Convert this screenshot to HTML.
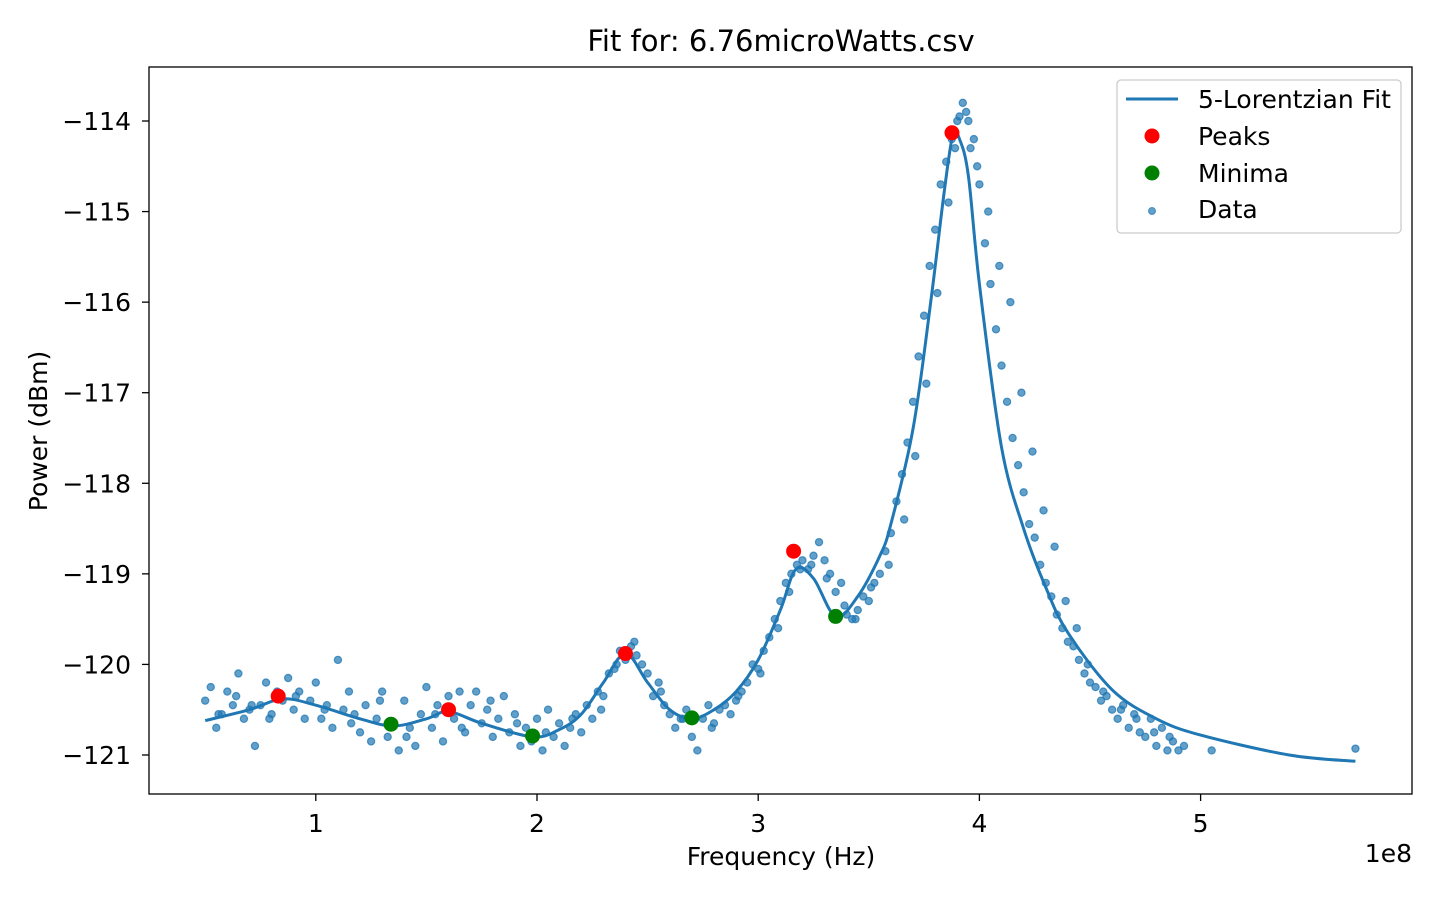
<!DOCTYPE html>
<html><head><meta charset="utf-8"><style>
html,body{margin:0;padding:0;background:#fff;}
svg{display:block;font-family:"DejaVu Sans","Liberation Sans",sans-serif;}
</style></head><body>
<svg id="chart" width="1440" height="900" xmlns="http://www.w3.org/2000/svg">
<rect x="0" y="0" width="1440" height="900" fill="#fff"/>
<text x="781" y="51" font-size="29" text-anchor="middle">Fit for: 6.76microWatts.csv</text>
<g id="marks"></g>
<rect x="149" y="67" width="1263" height="727" fill="none" stroke="#000" stroke-width="1.3"/>
<g id="axes"></g>
<text x="781" y="865" font-size="25" text-anchor="middle">Frequency (Hz)</text>
<text x="1412" y="862" font-size="25" text-anchor="end">1e8</text>
<text transform="translate(47,431) rotate(-90)" font-size="25" text-anchor="middle">Power (dBm)</text>
<g>
<rect x="1117" y="80" width="284" height="153" rx="4" fill="#fff" fill-opacity="0.8" stroke="#ccc" stroke-width="1.3"/>
<line x1="1126" y1="99" x2="1178" y2="99" stroke="#1f77b4" stroke-width="3"/>
<text x="1198" y="108" font-size="25">5-Lorentzian Fit</text>
<circle cx="1152" cy="136" r="7.5" fill="#ff0000"/>
<text x="1198" y="145" font-size="25">Peaks</text>
<circle cx="1152" cy="173" r="7.5" fill="#008000"/>
<text x="1198" y="182" font-size="25">Minima</text>
<circle cx="1152" cy="211" r="3.5" fill="#1f77b4" fill-opacity="0.7" stroke="#1f77b4" stroke-opacity="0.7"/>
<text x="1198" y="218" font-size="25">Data</text>
</g>
</svg>
<script>
const xTicks = [1, 2, 3, 4, 5];
const yTicks = [-114, -115, -116, -117, -118, -119, -120, -121];
const fitFreq = [0.5,0.7,0.85,1.0,1.2,1.35,1.5,1.6,1.75,1.98,2.1,2.2,2.3,2.4,2.5,2.6,2.7,2.8,2.9,3.0,3.1,3.17,3.25,3.35,3.45,3.55,3.6,3.7,3.78,3.84,3.88,3.91,3.95,4.0,4.1,4.2,4.3,4.4,4.6,4.8,5.0,5.4,5.7];
const fitPower = [-120.62,-120.5,-120.38,-120.45,-120.6,-120.68,-120.6,-120.52,-120.65,-120.8,-120.72,-120.55,-120.2,-119.88,-120.2,-120.5,-120.6,-120.5,-120.3,-119.95,-119.4,-118.95,-119.05,-119.47,-119.25,-118.8,-118.45,-117.4,-116.0,-114.8,-114.15,-114.2,-114.6,-115.8,-117.6,-118.5,-119.15,-119.65,-120.28,-120.6,-120.78,-121.0,-121.07];
const peakFreq = [0.83,1.6,2.4,3.16,3.876];
const peakPower = [-120.35,-120.5,-119.88,-118.75,-114.13];
const minFreq = [1.34,1.98,2.7,3.35];
const minPower = [-120.66,-120.79,-120.59,-119.47];
const dataFreq = [0.5,0.525,0.55,0.575,0.6,0.625,0.65,0.675,0.7,0.725,0.75,0.775,0.8,0.825,0.85,0.875,0.9,0.925,0.95,0.975,1.0,1.025,1.05,1.075,1.1,1.125,1.15,1.175,1.2,1.225,1.25,1.275,1.3,1.325,1.35,1.375,1.4,1.425,1.45,1.475,1.5,1.525,1.55,1.575,1.6,1.625,1.65,1.675,1.7,1.725,1.75,1.775,1.8,1.825,1.85,1.875,1.9,1.925,1.95,1.975,2.0,2.025,2.05,2.075,2.1,2.125,2.15,2.175,2.2,2.225,2.25,2.275,2.3,2.325,2.35,2.375,2.4,2.425,2.45,2.475,2.5,2.525,2.55,2.575,2.6,2.625,2.65,2.675,2.7,2.725,2.75,2.775,2.8,2.825,2.85,2.875,2.9,2.925,2.95,2.975,3.0,3.025,3.05,3.075,3.1,3.125,3.15,3.175,3.2,3.225,3.25,3.275,3.3,3.325,3.35,3.375,3.4,3.425,3.45,3.475,3.5,3.525,3.55,3.575,3.6,3.625,3.65,3.675,3.7,3.725,3.75,3.775,3.8,3.825,3.85,3.875,3.9,3.925,3.95,3.975,4.0,4.025,4.05,4.075,4.1,4.125,4.15,4.175,4.2,4.225,4.25,4.275,4.3,4.325,4.35,4.375,4.4,4.425,4.45,4.475,4.5,4.525,4.55,4.575,4.6,4.625,4.65,4.675,4.7,4.725,4.75,4.775,4.8,4.825,4.85,4.875,4.9,4.925,5.05,5.7,
  0.56,0.64,0.71,0.79,0.91,1.04,1.16,1.29,1.41,1.54,1.66,1.79,1.91,2.04,2.16,2.29,2.36,2.44,2.56,2.66,2.79,2.91,3.01,3.09,3.14,3.19,3.24,3.31,3.39,3.44,3.51,3.59,3.66,3.71,3.76,3.81,3.86,3.89,3.91,3.94,3.96,3.99,4.04,4.09,4.14,4.19,4.24,4.29,4.34,4.39,4.44,4.49,4.56,4.64,4.71,4.79,4.86];
const dataPower = [-120.4,-120.25,-120.7,-120.55,-120.3,-120.45,-120.1,-120.6,-120.5,-120.9,-120.45,-120.2,-120.55,-120.3,-120.4,-120.15,-120.5,-120.3,-120.6,-120.4,-120.2,-120.6,-120.45,-120.7,-119.95,-120.5,-120.3,-120.55,-120.75,-120.45,-120.85,-120.6,-120.3,-120.8,-120.65,-120.95,-120.4,-120.7,-120.9,-120.55,-120.25,-120.7,-120.45,-120.85,-120.35,-120.6,-120.3,-120.75,-120.45,-120.3,-120.65,-120.5,-120.8,-120.6,-120.35,-120.75,-120.55,-120.9,-120.7,-120.85,-120.6,-120.95,-120.5,-120.8,-120.65,-120.9,-120.7,-120.55,-120.75,-120.45,-120.6,-120.3,-120.35,-120.1,-120.05,-119.85,-119.95,-119.8,-119.9,-120.0,-120.1,-120.35,-120.2,-120.45,-120.55,-120.7,-120.6,-120.5,-120.8,-120.95,-120.6,-120.45,-120.65,-120.5,-120.45,-120.55,-120.4,-120.3,-120.2,-120.0,-120.05,-119.85,-119.7,-119.5,-119.3,-119.1,-119.0,-118.9,-118.85,-118.95,-118.8,-118.65,-118.85,-119.0,-119.2,-119.1,-119.45,-119.5,-119.4,-119.25,-119.3,-119.1,-119.0,-118.75,-118.55,-118.2,-117.9,-117.55,-117.1,-116.6,-116.15,-115.6,-115.2,-114.7,-114.45,-114.2,-114.0,-113.8,-114.0,-114.2,-114.7,-115.35,-115.8,-116.3,-116.7,-117.1,-117.5,-117.8,-118.1,-118.45,-118.6,-118.9,-119.1,-119.25,-119.45,-119.6,-119.75,-119.8,-119.95,-120.1,-120.2,-120.25,-120.4,-120.35,-120.5,-120.6,-120.45,-120.7,-120.55,-120.75,-120.8,-120.6,-120.9,-120.7,-120.95,-120.85,-120.95,-120.9,-120.95,-120.93,
  -120.55,-120.35,-120.45,-120.6,-120.35,-120.5,-120.65,-120.4,-120.8,-120.55,-120.7,-120.4,-120.65,-120.75,-120.6,-120.5,-120.0,-119.75,-120.3,-120.6,-120.7,-120.35,-120.1,-119.6,-119.2,-118.95,-118.9,-119.05,-119.35,-119.5,-119.15,-118.9,-118.4,-117.7,-116.9,-115.9,-114.9,-114.3,-113.95,-113.9,-114.3,-114.5,-115.0,-115.6,-116.0,-117.0,-117.65,-118.3,-118.7,-119.3,-119.6,-120.0,-120.3,-120.5,-120.6,-120.75,-120.8];

const NS = 'http://www.w3.org/2000/svg';
function xs(f){ return 94.6 + f * 221.2; }
function ys(p){ return 121 + (-114 - p) * 90.57; }
const marks = document.getElementById('marks');
const axes = document.getElementById('axes');
function mk(tag, attrs, parent){ const e = document.createElementNS(NS, tag); for (const k in attrs) e.setAttribute(k, attrs[k]); parent.appendChild(e); return e; }

dataFreq.forEach((f, i) => {
  const c = mk('circle', {cx: xs(f), cy: ys(dataPower[i]), r: 3.6, fill: '#1f77b4', 'fill-opacity': 0.7, stroke: '#1f77b4', 'stroke-opacity': 0.75, 'stroke-width': 1.2}, marks);
  
  
});
// fit line with Catmull-Rom smoothing
const P = fitFreq.map((f, i) => [xs(f), ys(fitPower[i])]);
let d = 'M' + P[0][0].toFixed(1) + ',' + P[0][1].toFixed(1);
for (let i = 0; i < P.length - 1; i++) {
  const p0 = P[Math.max(0, i - 1)], p1 = P[i], p2 = P[i + 1], p3 = P[Math.min(P.length - 1, i + 2)];
  const c1 = [p1[0] + (p2[0] - p0[0]) / 6, p1[1] + (p2[1] - p0[1]) / 6];
  const c2 = [p2[0] - (p3[0] - p1[0]) / 6, p2[1] - (p3[1] - p1[1]) / 6];
  d += ' C' + c1[0].toFixed(1) + ',' + c1[1].toFixed(1) + ' ' + c2[0].toFixed(1) + ',' + c2[1].toFixed(1) + ' ' + p2[0].toFixed(1) + ',' + p2[1].toFixed(1);
}
const line = mk('path', {d: d, fill: 'none', stroke: '#1f77b4', 'stroke-width': 3, 'stroke-linejoin': 'round'}, marks);


peakFreq.forEach((f, i) => {
  const c = mk('circle', {cx: xs(f), cy: ys(peakPower[i]), r: 7.5, fill: '#ff0000'}, marks);
  
  
});
minFreq.forEach((f, i) => {
  const c = mk('circle', {cx: xs(f), cy: ys(minPower[i]), r: 7.5, fill: '#008000'}, marks);
  
  
});
xTicks.forEach(t => {
  const x = xs(t);
  const l = mk('line', {x1: x, y1: 794, x2: x, y2: 801, stroke: '#000', 'stroke-width': 1.3}, axes);
  
  
  const tx = mk('text', {x: x, y: 832, 'font-size': 25, 'text-anchor': 'middle'}, axes);
  tx.textContent = t;
  
  
});
yTicks.forEach(t => {
  const y = ys(t);
  const l = mk('line', {x1: 142, y1: y, x2: 149, y2: y, stroke: '#000', 'stroke-width': 1.3}, axes);
  
  
  const tx = mk('text', {x: 131, y: y + 9, 'font-size': 25, 'text-anchor': 'end'}, axes);
  tx.textContent = '\u2212' + Math.abs(t);
  
  
});
</script>
</body></html>
